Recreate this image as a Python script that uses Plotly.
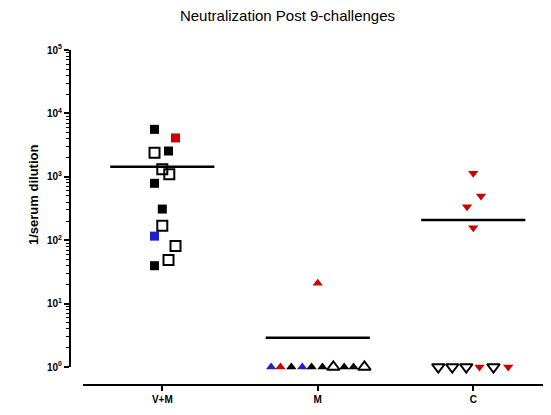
import plotly.graph_objects as go

# group positions on the x axis
categories = ["V+M", "M", "C"]

# V+M group (squares)
vm_values = [5600, 4100, 2400, 2550, 1310, 1095, 790, 310, 169, 116, 81, 48.7, 39.6]
vm_jitter = [-0.05, 0.085, -0.05, 0.04, 0.0, 0.045, -0.05, 0.0, 0.0, -0.05, 0.085, 0.04, -0.05]
vm_kind = ["black", "red", "open", "black", "open", "open", "black", "black", "open", "blue", "open", "open", "black"]

# M group (up triangles)
m_values = [20.9, 1, 1, 1, 1, 1, 1, 1, 1, 1, 1]
m_jitter = [0.0, -0.30, -0.24, -0.17, -0.10, -0.04, 0.03, 0.10, 0.17, 0.23, 0.30]
m_kind = ["red", "blue", "red", "black", "blue", "black", "black", "open", "black", "black", "open"]

# C group (down triangles)
c_values = [1136, 498, 337, 157, 1, 1, 1, 1, 1, 1]
c_jitter = [0.0, 0.05, -0.04, 0.0, -0.225, -0.135, -0.045, 0.04, 0.13, 0.225]
c_kind = ["red", "red", "red", "red", "open", "open", "open", "red", "open", "red"]

# horizontal summary line per group
summary_values = [1440, 2.9, 208]

colors = {"black": "#000000", "red": "#CC0000", "blue": "#1F1FCC", "open": "#000000"}

fig = go.Figure()


def add_group(pos, values, jitter, kind, filled_symbol, open_symbol, open_size):
    for k in ["black", "red", "blue", "open"]:
        idx = [i for i, kk in enumerate(kind) if kk == k]
        if not idx:
            continue
        is_open = k == "open"
        fig.add_trace(
            go.Scatter(
                x=[pos + jitter[i] for i in idx],
                y=[values[i] for i in idx],
                mode="markers",
                cliponaxis=False,
                marker=dict(
                    symbol=open_symbol if is_open else filled_symbol,
                    size=open_size if is_open else 9,
                    color=colors[k],
                    line=dict(width=2 if is_open else 0, color=colors[k]),
                ),
                showlegend=False,
                hoverinfo="y",
            )
        )


add_group(0, vm_values, vm_jitter, vm_kind, "square", "square-open", 10)
add_group(1, m_values, m_jitter, m_kind, "triangle-up", "triangle-up-open", 11)
add_group(2, c_values, c_jitter, c_kind, "triangle-down", "triangle-down-open", 11)

for i, v in enumerate(summary_values):
    fig.add_trace(
        go.Scatter(
            x=[i - 0.335, i + 0.335],
            y=[v, v],
            mode="lines",
            line=dict(color="black", width=2.6),
            cliponaxis=False,
            showlegend=False,
            hoverinfo="skip",
        )
    )

major = [10**p for p in range(0, 6)]
minor_vals = [m * 10**p for p in range(0, 5) for m in range(2, 10)]

# the page adds an 8px body margin, so the figure is 8px smaller than the window
fig.update_layout(
    width=543,
    height=407,
    margin=dict(l=62, r=0, t=42, b=30),
    plot_bgcolor="white",
    paper_bgcolor="white",
    font=dict(family="Liberation Sans, Arial, sans-serif", color="black"),
    title=dict(
        text="Neutralization Post 9-challenges",
        x=279.5 / 543,
        xref="container",
        xanchor="center",
        y=1 - 8 / 407,
        yref="container",
        yanchor="middle",
        font=dict(size=15, color="black"),
    ),
    xaxis=dict(
        domain=[13 / 481, 1],
        range=[-0.51, 2.5],
        anchor="free",
        position=0,
        tickvals=[0, 1, 2],
        ticktext=categories,
        showline=True,
        linecolor="black",
        linewidth=2,
        ticks="outside",
        ticklen=5,
        tickwidth=2,
        tickcolor="black",
        tickfont=dict(size=10, weight="bold"),
        showgrid=False,
        zeroline=False,
    ),
    yaxis=dict(
        type="log",
        domain=[18 / 335, 1],
        range=[0, 5],
        anchor="free",
        position=0,
        tickvals=major,
        ticktext=["10<sup>%d</sup>" % p for p in range(0, 6)],
        showline=True,
        linecolor="black",
        linewidth=2,
        ticks="outside",
        ticklen=5,
        tickwidth=2,
        tickcolor="black",
        tickfont=dict(size=10, weight="bold"),
        minor=dict(tickvals=minor_vals, ticks="outside", ticklen=3, tickwidth=1, tickcolor="black", showgrid=False),
        showgrid=False,
        zeroline=False,
    ),
)

# y title placed as an annotation so it sits where the reference has it
fig.add_annotation(
    text="1/serum dilution",
    textangle=-90,
    xref="paper",
    yref="paper",
    x=-37 / 481,
    y=(385 - 195) / 335,
    xanchor="center",
    yanchor="middle",
    showarrow=False,
    font=dict(size=13, weight="bold"),
)

fig.write_html("out.html")
